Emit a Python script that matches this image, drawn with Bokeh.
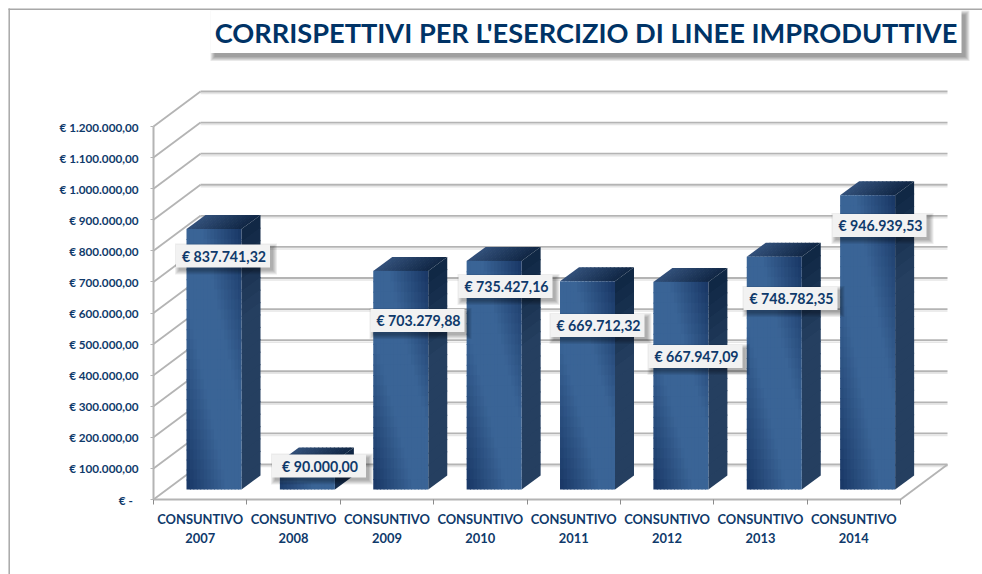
from bokeh.embed import file_html
from bokeh.resources import INLINE
from bokeh.plotting import figure
from bokeh.models import LinearAxis, FixedTicker, Range1d
from bokeh.core.properties import value as V

# ---- data
years = ["2007", "2008", "2009", "2010", "2011", "2012", "2013", "2014"]
values = [837741.32, 90000.00, 703279.88, 735427.16, 669712.32, 667947.09, 748782.35, 946939.53]
y_ticks = [0, 100000, 200000, 300000, 400000, 500000, 600000, 700000, 800000, 900000,
           1000000, 1100000, 1200000]
title_text = "CORRISPETTIVI PER L'ESERCIZIO DI LINEE IMPRODUTTIVE"

# ---- layout (page pixels)
W, H = 982, 574
PAGE = 0
X0, XN, Y0, YT = 153.0, 900.0, 499.0, 126.0
SLOT = (XN - X0) / len(years)
K = (Y0 - YT) / y_ticks[-1]          # px per euro
DX, DY = 47.0, 35.0                  # wall depth
BX, BW, BLIFT = 33.0, 55.0, 10.0     # bar offset, width, lift
BDX, BDY = 19.0, 14.0                # bar depth
label_centres = [(222.5, 255.5), (318.5, 465.5), (417, 320), (505, 286),
                 (597, 325), (695, 356), (790, 298), (879, 225)]
NAVY = "#0f3a6b"
FONT = "Lato"


def dx(px):
    return (px - X0) / SLOT


def dy(py):
    return (Y0 - py) / K


def lerp(c1, c2, t):
    return tuple(a + (b - a) * t for a, b in zip(c1, c2))


def hx(c):
    return "#%02x%02x%02x" % tuple(int(round(x)) for x in c)


p = figure(width=W, height=H, output_backend="svg", toolbar_location=None,
           x_range=Range1d(dx(PAGE), dx(PAGE + W)), y_range=Range1d(dy(PAGE + H), dy(PAGE)),
           x_axis_location=None, y_axis_location=None, min_border=0,
           background_fill_color="white", border_fill_color="white", outline_line_color=None)
p.grid.visible = False

# page border (left, top)
p.segment([dx(8.7)], [dy(8)], [dx(8.7)], [dy(PAGE + H)], line_color="#a8a8a8", line_width=1.5)
p.segment([dx(8)], [dy(8.7)], [dx(PAGE + W)], [dy(8.7)], line_color="#a8a8a8", line_width=1.5)

# walls
GRID = "#b4b4b4"
dvx, dvy = DX / SLOT, DY / K
bx0 = [0 + dvx for _ in y_ticks]
bx1 = [len(years) + dvx for _ in y_ticks]
by = [v + dvy for v in y_ticks]
p.segment(bx0, [dy(Y0 - (v * K + DY) + 2) for v in y_ticks], bx1,
          [dy(Y0 - (v * K + DY) + 2) for v in y_ticks], line_color="#e6e6e6", line_width=1.5)
p.segment(bx0, by, bx1, by, line_color=GRID, line_width=1.8)
p.segment([0 for _ in y_ticks], y_ticks, bx0, by, line_color=GRID, line_width=1.8)
p.segment([len(years)], [0], [len(years) + dvx], [dvy], line_color=GRID, line_width=1.8)

# 3-D bars (strips overlap slightly, painted in order, so no seams show)
DARK, LIGHT = (24, 54, 100), (58, 100, 150)
qc = {"l": [], "r": [], "t": [], "b": [], "c": []}
pc = {"x": [], "y": [], "c": []}
NC = 16
OV = 1.0
for i, v in enumerate(values):
    xl = X0 + i * SLOT + BX
    yb = Y0 - BLIFT
    h = v * K
    yt = yb - h
    NR = max(4, int(h / 10))
    # side face strips
    NS = max(3, int(h / 12))
    for r in range(NS):
        f0, f1 = r / NS, (r + 1) / NS
        y0, y1 = yt + h * f0, yt + h * f1
        if r < NS - 1:
            y1 += OV
        c = lerp((15, 38, 67), (37, 63, 96), min(1.0, h * (f0 + f1) / 2 / 90))
        pc["x"].append([dx(xl + BW), dx(xl + BW + BDX), dx(xl + BW + BDX), dx(xl + BW)])
        pc["y"].append([dy(y0), dy(y0 - BDY), dy(y1 - BDY), dy(y1)])
        pc["c"].append(hx(c))
    # top face strips
    NT = 14
    for s in range(NT):
        f0, f1 = s / NT, (s + 1) / NT
        tl = xl + BW * f0
        tr = xl + BW * f1 + (OV if s < NT - 1 else 0)
        c = lerp((50, 80, 122), (16, 38, 68), (f0 + f1) / 2)
        pc["x"].append([dx(tl), dx(tr), dx(tr + BDX), dx(tl + BDX)])
        pc["y"].append([dy(yt), dy(yt), dy(yt - BDY), dy(yt - BDY)])
        pc["c"].append(hx(c))
    # front face cells
    for a in range(NC):
        for r in range(NR):
            u = (a + .5) / NC
            w = 1 - (r + .5) / NR
            t = (u + w) / 2
            m = min(1.0, (1 - abs(t - .5) * 2) * 1.35)
            qc["l"].append(dx(xl + BW * a / NC))
            qc["r"].append(dx(min(xl + BW, xl + BW * (a + 1) / NC + OV)))
            qc["t"].append(dy(yt + h * r / NR))
            qc["b"].append(dy(min(yb, yt + h * (r + 1) / NR + OV)))
            qc["c"].append(hx(lerp(DARK, LIGHT, m)))
p.patches(pc["x"], pc["y"], fill_color=pc["c"], line_color=None)
p.quad(left=qc["l"], right=qc["r"], top=qc["t"], bottom=qc["b"],
       fill_color=qc["c"], line_color=None)


def shadow_box(x0, y0, x1, y1, fill, sdx=3, sdy=3, strength=0.07):
    for g in (4, 3, 2, 1, 0):
        p.quad(left=[dx(x0 + sdx - g)], right=[dx(x1 + sdx + g)], top=[dy(y0 + sdy - g)],
               bottom=[dy(y1 + sdy + g)], fill_color="#000000", fill_alpha=strength,
               line_color=None)
    p.quad(left=[dx(x0)], right=[dx(x1)], top=[dy(y0)], bottom=[dy(y1)], fill_color=fill,
           line_color=None)


# title
shadow_box(210, 10, 961, 52.5, "#ffffff", sdx=4, sdy=4, strength=0.085)
p.text([dx(585.5)], [dy(32)], text=[title_text], text_font=V(FONT), text_font_style="bold",
       text_font_size="27.2px", text_color="#003366", text_align="center", text_baseline="middle")

# value labels
for v, (cx, cy) in zip(values, label_centres):
    euros = f"{v:,.2f}".replace(",", "#").replace(".", ",").replace("#", ".")
    shadow_box(cx - 47, cy - 11.5, cx + 47, cy + 11.5, "#f2f2f2")
    p.text([dx(cx + 1)], [dy(cy)], text=["€ " + euros], text_font=V(FONT), text_font_style="bold",
           text_font_size="14.2px", text_color=NAVY, text_align="center", text_baseline="middle")

# axes
yax = LinearAxis(fixed_location=0, bounds=(0, y_ticks[-1]), ticker=FixedTicker(ticks=y_ticks))
overrides = {}
for t in y_ticks:
    overrides[t] = "€ " + f"{t:,.2f}".replace(",", "#").replace(".", ",").replace("#", ".")
overrides[0] = "€ -\u00a0\u00a0"
yax.major_label_overrides = overrides
yax.axis_line_color = GRID
yax.axis_line_width = 2
yax.major_tick_line_color = GRID
yax.major_tick_in = 0
yax.major_tick_out = 3
yax.minor_tick_line_color = None
yax.major_label_standoff = 12
yax.major_label_text_font = FONT
yax.major_label_text_font_style = "bold"
yax.major_label_text_font_size = "11.7px"
yax.major_label_text_color = NAVY
p.add_layout(yax, "left")

xax = LinearAxis(fixed_location=0, bounds=(0, len(years)),
                 ticker=FixedTicker(ticks=[i + .5 for i in range(len(years))],
                                    minor_ticks=list(range(len(years) + 1))))
xax.major_label_overrides = {i + .5: "CONSUNTIVO\n" + y for i, y in enumerate(years)}
xax.axis_line_color = GRID
xax.axis_line_width = 2
xax.major_tick_line_color = None
xax.major_tick_in = 0
xax.major_tick_out = 0
xax.minor_tick_line_color = "#8c8c8c"
xax.minor_tick_in = 0
xax.minor_tick_out = 5
xax.major_label_standoff = 6
xax.major_label_text_font = FONT
xax.major_label_text_font_style = "bold"
xax.major_label_text_font_size = "12.9px"
xax.major_label_text_color = NAVY
xax.major_label_text_line_height = 1.2
p.add_layout(xax, "below")

open("out.html", "w").write(file_html(p, INLINE))
